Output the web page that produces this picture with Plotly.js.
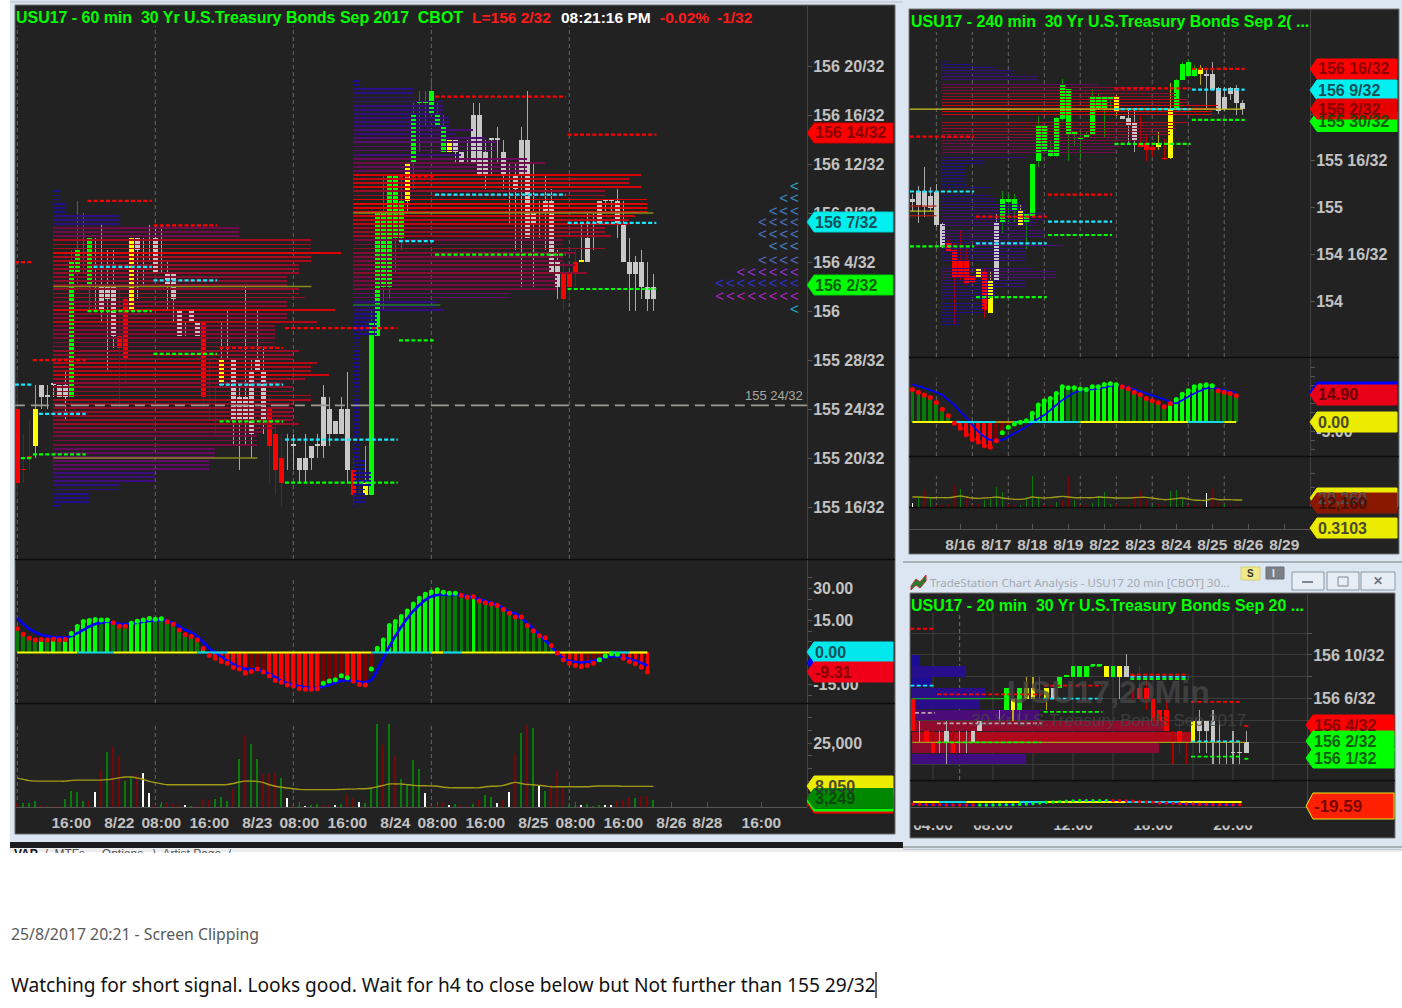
<!DOCTYPE html>
<html><head><meta charset="utf-8">
<script src="https://cdn.plot.ly/plotly-3.0.1.min.js"></script>
<style>html,body{margin:0;padding:0;background:#fff}#c{width:1402px;height:1008px}
#tabs{position:absolute;left:14px;top:848px;height:5px;overflow:hidden;font:12px "Liberation Sans";color:#555;white-space:pre;line-height:13px}
#tabs b{color:#111}</style></head><body>
<div id="c"></div><div id="tabs"><b>VAP</b>  /  MTFs ... Options   \  Artist Page  /</div>
<script>
/* ---------- 60 min: prices are 32nds above 155 ---------- */
const a60Hi=[27,22,23,26,26,26,26,26,27,37,41,40,38,38,39,37,37,34,33,38,38,38,39,39,39,36,35,32,31,32,31,31,28,26,31,32,28,26,34,28,32,29,25,23,22,22,22,20,22,21,22,26,25,23,25,27,20,19,21,32,40,43,43,43,43,44,49,50,50,51,49,48,46,46,45,46,49,49,46,46,47,46,44,44,47,50,44,41,43,42,37,36,35,37,39,40,40,41,41,41,42,41,38,36.5,37,36,35];
const a60Lo=[16.8,18,19,20,24,24,25,25,23,25,34,35,32,32,31,27,29,24,26,32,33,34,36,35,35,32,31,30,30,31,30,24,23,22,26,28,21,19,21,20,27,22,18,17,16,19,19,18,18,19,20,20,21,22,22,18,16,17,17,17,30,32,33,35,37,40,42,45,47,48,47,45,45,44,44,44,44,43,42,43,44,42,39,37,34,38,34,38,37,35,33,32,33,34,36,36,37,39,40,40,38,36,32,32,33,32,32];
const a60Top=[24,19,20,24,26,25,26,26,26,36,37,null,38,null,34,34,34,30,33,38,38,null,null,38,null,35,35,32,null,32,31,31,null,null,28,null,28,25,25,27,28,27,24,22,20,null,21,20,20,21,21,25,24,23,24,24,19,null,18,31,40,40,43,43,41,44,48,49,49,50,48,47,46,46,45,null,48,48,45,46,46,45,43,43,46,46,40,40,41,41,36,35,35,36,36,38,39,41,41,41,41,39,36,36,36,34,34];
const a60Bot=[18,19,20,21,25,25,26,25,25,25,35,null,34,null,32,33,30,29,28,32,37,null,null,35,null,34,33,30,null,31,30,25,null,null,26,null,23,23,23,22,27,23,21,19,18,null,21,19,19,20,21,21,22,22,22,19,17,null,17,17,30,34,34,38,38,41,44,49,49,48,47,45,45,45,44,null,44,43,43,46,46,43,43,42,43,38,39,40,40,35,34,33,34,35,36,36,39,39,41,41,39,36,35,35,34,33,33];
const a60Kind="rrrywwwwwggggywwwrrywwwwwwwwwwwrrrywwwwwwwrrrywwwwwwwwwwrryggggggyggggggywwwwwwwwwwwwwwwwwwrrrywwwwwwwwwwwwwry".split("");
const a60Grid=[0,23,46,69,92];
const a60TickVals=[16,20,24,28,32,36,40,44,48,52];
const a60TickText=["155 16/32","155 20/32","155 24/32","155 28/32","156","156 4/32","156 8/32","156 12/32","156 16/32","156 20/32"];
const a60XVals=[9,17,24,32,40,47,55,63,70,78,86,93,101,109,115,124];
const a60XText=["16:00","8/22","08:00","16:00","8/23","08:00","16:00","8/24","08:00","16:00","8/25","08:00","16:00","8/26","8/28","16:00"];
const a60LevelRows=[[-.4,2.4,36,"r"],[11.7,22.4,41,"r"],[22.7,33.3,39,"r"],[12.7,22.4,35.6,"c"],[22.7,33.3,34.5,"c"],[11.7,22.4,32,"g"],[22.7,33.3,28.5,"g"],[2.6,11.4,28,"r"],[-.4,2.4,26,"c"],[3.6,11.4,23.6,"c"],[.6,2.4,20,"g"],[2.6,11.4,20.3,"g"],[33.7,44.3,29,"r"],[33.7,44.3,26,"c"],[33.7,44.3,23,"g"],[44.6,63.4,30.6,"r"],[44.6,63.4,21.5,"c"],[44.6,63.4,18,"g"],[63.6,69.4,43,"r"],[63.6,69.4,37.7,"c"],[63.6,69.4,29.6,"g"],[69.6,91.4,49.5,"r"],[69.6,91.4,41.5,"c"],[69.6,91.4,36.6,"g"],[91.7,106.5,46.4,"r"],[91.7,106.5,39.2,"c"],[91.7,106.5,33.8,"g"]];
/* volume profile rows: three rows per 32nd, length in bars */
const a60Prof1Low=16, a60Prof1Start=6;
const a60Prof1=[1,6,6,6,11,11,17,17,17,26,26,26,27,27,27,34,34,34,35,37,41,40,40,40,40,40,43,43,40,40,38,42,46,43,43,44,40,40,41,37,37,37,37,37,37,44,39,39,47,39,39,42,41,41,39,39,39,41,41,41,43,43,48,43,43,43,31,31,31,11,11,11,2,2,2,1,1,1];
const a60Prof2Low=16, a60Prof2Start=56;
const a60Prof2=[.5,2,2,2,2,3,3,3,3,2,2,2,1,1,1,1,1,1,1,1,1,1,1,1,1,1,1,1,1,1,1,1,1,1,1,1,1,1,1,1,1,1,4,4,4,4,4,4,15,14,14,26,26,34,34,34,34,39,33,37,35,35,37,42,35,35,43,42,42,46,46,47,49,49,49,49,42,42,48,46,46,48,29,29,32,29,18,24,24,24,22,17,20,16,16,16,15,15,15,15,10,10,10,1,1];
const a60Poc=[[6,49,34,"#8a8a20"],[6,40,20,"#8a8a20"],[56,106,40,"#8a8a20"],[56,70.5,32.5,"#1f7a1f"]];
const a60ArrowVals=[42.1,41.1,40.1,39.2,38.2,37.2,36.1,35.1,34.2,33.1,32.1];
const a60ArrowCounts=[1,2,3,4,4,3,4,6,8,8,1];
const a60ArrowColors=["#2aa8c8","#3a8ec8","#4080c8","#5070c0","#4a78c8","#4088c8","#5a68c0","#9030d0","#3030d0","#b020c0","#20b0c8"];
/* 60 min oscillator */
const a60Osc=[11.1,8.6,6.7,5.9,6.1,5.9,6.2,5.9,6.1,8.9,12.2,14.5,15,15.5,15.2,15.3,13.9,12.3,12.3,13.75,14.7,15.3,15.9,15.6,15.8,14.4,13.3,10.6,8.4,7.5,5.9,1.9,-1.4,-2.7,-4.2,-5,-7,-7.8,-9.7,-8.9,-7.8,-9.2,-11,-13.1,-14,-15.3,-15.6,-16.9,-17.2,-17.3,-17,-14.4,-13.4,-12.8,-10.9,-11.9,-13.4,-15,-15.3,-7.8,2,5.9,12.7,14.5,16.9,19.5,22.8,25.5,27.3,28.4,29.4,28.3,27.8,27.8,26.7,25.9,26.2,24.2,23.3,22.7,22,20.2,18.4,16.7,16.7,12.7,10.2,7.8,6.9,3.3,-.2,-3.4,-5,-6.1,-6.7,-6.1,-5,-3.4,-1.7,-.6,-.8,-2.7,-4.2,-5.3,-6.9,-9.2];
const a60Sig=[16.1,13.4,11.1,9.5,8.3,7.7,7.2,7,7,7.7,9.1,10.6,12.2,13.4,14,14.4,14,13.4,13.3,13.6,14,14.5,14.8,15,15.3,14.8,13.75,12.2,10.6,9.4,7.5,4.8,2,0,-1.9,-3.9,-5.5,-6.9,-7.7,-7.8,-8,-8.9,-10.2,-11.7,-13.3,-14.4,-15.2,-15.9,-16.4,-16.7,-16.7,-15.9,-15.2,-14.2,-13.3,-13,-13.3,-13.75,-14,-12.8,-8.1,-2.7,2.8,7.8,12.2,16.1,19.5,22.3,24.7,26.25,27,27.2,27,27,27,26.4,25.8,25,24.2,23.4,22.3,20.8,19.2,18.3,16.1,13.75,11.1,8.3,5.5,2.8,-.3,-2.7,-3.9,-4.5,-4.7,-4.5,-3.9,-3.1,-2.3,-1.9,-1.9,-2.3,-3,-3.9,-5,-6.1];
const a60Shade="ddddbdbdbbbbbbdbdddbbbbddddddddbbbbbbbbdddbbbbbbbbbddddbbbddbbbbbbbbbbbdddddbddddddddddddddbbbbdddddbbbbbb".split("");
const a60Dot="rrrrrrrrrgggggggrrrggggggrrrrrrrrrrrrrrrrrrrrrrrrrrgggggrrrgggggggggggggggrrrrrrrrrrrrrrrrrrrrrrrggggrrrrr".split("");
const a60ZeroRows=[[0,10,"y"],[10,16,"c"],[16,30,"y"],[30,35,"c"],[35,59,"y"],[59,69,"c"],[69,71,"y"],[71,74,"c"],[74,99,"y"],[99,102,"c"],[102,105,"y"]];
/* 60 min volume */
const a60Vol=[1700,1400,1400,2300,650,300,400,400,3250,6100,5850,2200,2470,5980,14300,21450,23270,19760,10270,11310,12600,13130,5330,900,1000,1500,1300,900,650,500,400,3000,2600,3250,4000,2500,7000,18850,27950,24570,18850,12870,13130,13130,11310,3400,400,400,500,650,1300,650,900,900,1170,4940,3500,2080,1700,7540,32370,24180,32370,19890,10790,8710,18200,14690,5330,400,780,1950,650,1170,650,500,1300,2600,4550,3770,1700,2730,5850,20670,28730,31850,30940,8710,6110,8710,14170,7410,650,400,900,1040,400,900,650,650,2200,2860,3900,3640,4160,4290,2860];
const a60VolAvg=[11.3,10.8,10.3,10.1,10.1,10.1,10.1,10.1,10.1,10.4,10.5,10.5,10.5,10.5,10.5,10.7,11,11.4,11.7,11.7,11.3,10.8,10,9.5,9.1,8.7,8.7,8.7,8.7,8.7,8.7,8.7,8.7,8.7,8.7,8.8,9.2,9.75,10.1,10.1,10,9.5,8.7,8.1,7.7,7.4,7.15,6.9,6.8,6.8,6.8,6.8,6.8,6.8,6.9,7,7,7.15,7.15,7.4,7.9,8.45,9,9,9,8.7,8.45,8.3,8.3,8.2,8.1,7.7,7.5,7.5,7.5,7.5,7.5,7.5,7.9,8.1,8.1,8.45,9.1,9.6,9.2,8.8,8.7,8.45,8.2,7.9,7.9,7.9,7.9,7.9,7.9,7.9,8.1,8.2,8.2,8.2,8.2,8.05,8.05,8.05,8.05,8.05,8.05];
const a60VolKind="rgggrrrrggggrwrgrrggrwwrgrrrwgrrrgggrgrggrrrgwrgwggrrwgrrwgggrgrggggwrrrwgrrgrggwrwrgrgwgrrrggwgggwwrrrgrrg".split("");

/* ---------- 240 min: prices are 32nds above 154 ---------- */
const b240Hi=[36.6,39.4,46,38.9,40,26.8,21.7,20,24,18,8.5,11.4,11.4,10.2,29.9,37.7,36.6,36.6,33.1,29.9,46.9,63.5,60.1,54.9,63,76.1,72.7,58,57.8,57.8,72.7,71,70,70,70.4,63.5,65.3,65.3,63.5,57.2,54.4,57.8,55.5,74.8,76.1,81.9,83,80.7,80.7,79.6,81.9,73.3,73.3,73.3,73.9,68.9];
const b240Lo=[30.8,26.8,28.6,30.8,25.3,18.2,16.9,-8.1,6.8,5.6,6.2,7.9,-5.8,-4.1,6.8,23.2,26.8,26.8,25.9,17.7,28.6,46,50.9,49.4,49.4,61.8,48,53.2,48.9,55.8,56.9,65.5,55.7,65.7,63.2,62.2,53.8,50.9,52.9,48,49.4,51.7,48.3,48.6,65.3,75.6,76.7,76.7,73.9,65.8,72.1,64.1,65,68.7,63.8,63.8];
const b240Top=[35.1,37.7,37.7,36,37.2,26.3,20,17.3,14.2,14.2,8.5,11,10.2,7,26.8,35.1,35.1,35.1,31.1,29.9,46.9,60.1,60.1,51.7,62.7,74.1,72.7,58,56.1,57.2,69.8,69.8,69.8,69.8,69.8,63.5,62.7,60.9,54,54,52.9,54,49,65.8,75.8,81,81.9,79.8,79.8,77.9,77.9,72.9,69.8,72.9,72.9,67.9];
const b240Bot=[33.9,32.8,32.2,32,25.9,18.5,17.1,7.9,7.9,5.8,6.5,7.9,-3,-4.1,6.8,26.8,33.9,31.1,25.9,26.8,29.1,48,51.3,49.8,49.8,62.2,56.9,56.9,55.5,56,56.9,65.7,65.7,68.9,64.9,62.2,59.9,54.7,52.9,51.8,51.8,52.9,48.7,48.9,65.5,75.8,76.9,76.9,77.9,76.9,72.4,65,65.7,70.8,67.9,65.7];
const b240KindFull=["w","w","w","w","w","w","r","r","r","r","r","y","r","y","w","g","g","g","y","g","g","g","g","g","g","g","g","g","g","g","g","g","g","g","y","w","w","w","r","r","r","y","r","y","g","g","g","g","y","w","w","w","w","w","w","w"];
const b240Grid=[4,10,16,22,28,34,40,46,52];
const b240TickVals=[0,16,32,48,64,80];
const b240TickText=["154","154 16/32","155","155 16/32","156","156 16/32"];
const b240XVals=[8,14,20,26,32,38,44,50,56,62];
const b240XText=["8/16","8/17","8/18","8/19","8/22","8/23","8/24","8/25","8/26","8/29"];
const b240LevelRows=[[-.4,10.3,56.3,"r"],[-.4,10.3,37.5,"c"],[-.4,10.3,18.7,"g"],[10.6,22.4,28.9,"r"],[10.6,22.4,19.7,"c"],[10.6,22.4,1.3,"g"],[22.6,33.3,36.4,"r"],[22.6,33.3,27.2,"c"],[22.6,33.3,22.6,"g"],[33.7,46.4,72.8,"r"],[33.7,46.4,65.7,"c"],[33.7,46.4,53.8,"g"],[46.6,55.4,79.5,"r"],[46.6,55.4,72.4,"c"],[46.6,55.4,62,"g"]];
const b240ProfLow=-8, b240ProfStart=5;
const b240Prof=[3,3,3,3,7,7,7,7,7,8,9,9,9,14,14,14,19,19,19,15,14,14,14,14,14,14,14,20,14,14,17,17,17,17,16,16,17,17,17,14,14,14,9,9,8,8,8,8,4,4,4,4,4,4,4,7,7,14,14,29,29,30,30,34,34,38,38,39,39,41,41,44,45,45,46,46,41,41,39,39,35,35,26,26,16,16,12,12,9,5,1];
const b240Poc=[[-.4,55,65.7,"#c8c820"],[-.4,4,30.8,"#c8c820"],[-.4,4,32.5,"#c01818"],[-.4,4,29.2,"#c01818"]];
const b240Osc=[18,16.5,14.9,13.6,10.8,7,3.5,-.7,-3.5,-7,-9.6,-11,-13.2,-14,-10.3,-5.9,-2.9,-1.1,-.2,.7,4.8,9.4,11.8,13,15.8,19.5,18.9,18.9,18.2,18,19.5,19.5,20.8,21.1,20.6,19.5,18.4,16.5,15.1,13,11.8,10.7,8.5,10.3,12.5,15.3,17.3,19.5,20.2,20.6,20,17.3,16.4,15.8,14.5];
const b240Sig=[20.8,19.9,18.8,17.6,16.4,14.9,12.1,9.4,5.7,2.4,-1.7,-5.3,-8.1,-9.9,-10.3,-9.9,-8.1,-6.3,-4.4,-2.6,-.4,2,3.9,6.6,9.4,12.1,14.3,16.2,17.3,17.6,18,18.6,19.1,19.9,20.4,19.9,19.1,18,16.9,15.8,14.7,13.6,12.5,11.2,10.3,12.1,14,15.8,17.3,18.6,18.9,18.4,17.6,16.9,16.2];
const b240Shade="dddddddbbbbbbbddddddbbbbbbddddbbbbbddddddddbbbbbbbddddd".split("");
const b240Dot="rrrrrrrrrrrrrrrggggggggggggggggggggrrrrrrrrrgggggggrrrr".split("");
const b240ZeroRows=[[0,7,"y"],[7,14,"c"],[14,17,"o"],[17,28,"c"],[28,46,"y"],[46,52,"c"],[52,54,"y"]];
const b240Vol=[12,27,50,27,7,5,10,67,55,30,5,10,20,25,60,44,8,5,6,30,94,32,6,6,15,20,94,20,5,6,12,32,44,8,10,4,6,35,47,22,6,10,6,47,52,27,5,6,5,42,54,15,8,5,6];
const b240VolKindFull=["w","g","r","g","r","r","r","r","g","r","r","r","g","g","g","g","r","r","g","g","g","g","r","r","g","r","r","g","r","r","g","g","g","g","r","r","r","r","r","r","g","r","r","g","g","g","r","r","r","w","r","r","g","r","r"];
const b240VolAvg=[30,30,29,28,28,28,28,30,33,30,27,26,27,28,30,27,25,23,23,25,30,28,27,28,30,32,30,28,28,28,28,30,29,28,27,27,27,28,29,29,27,24,22,23,25,27,24,21,20,20,25,22,22,22,21,21];

/* ---------- 20 min: prices are 32nds above 156 ---------- */
const c20Hi=[6,4,3,3,3,4,3,3,3,3,4,null,null,5,7,6,7,8,8,8,7,7,8,8,9,9,9,9,9,9,9,9,10.1,7,9,8,6,5,6,3,4,2,4,5,4,5,4,2,3,2,3];
const c20Lo=[3,2,2,1,1,0,1,1,1,2,3,null,null,4,5,4,4,7,7,6,5,6,7,8,8,8,8,9,9,8,8,6,8,6,6,5,4,4,3,0,1,0,2,1,1,0,0,0,0,0,1];
const c20Top=[6,null,3,2,null,3,2,null,null,3,4,null,null,null,7,6,7,7,7,null,7,7,8,8,9,9,9,9,9,9,9,9,9,8,7,7,6,5,5,null,3,null,4,4,4,4,null,null,1,1,2];
const c20Bot=[3,null,2,1,null,2,1,null,null,2,3,null,null,null,5,5,5,6,6,null,6,6,7,8,8,8,8,9,9,8,8,8,8,8,6,6,4,4,3,null,2,null,2,3,3,2,null,null,1,1,1];
const c20Kind=["r","w","r","r","y","w","r","y","w","w","w","w","w","w","g","y","g","y","y","g","y","w","g","g","g","g","g","g","g","y","g","y","w","r","r","r","r","r","r","r","r","r","y","w","w","w","w","w","w","w","w"];
const c20Grid=[3,12,18,24,30,36,42,48,54];
const c20TickVals=[12,10,8,6,4,2,0];
const c20TickText=["","156 10/32","","156 6/32","","",""];
const c20XVals=[3,12,24,36,48];
const c20XText=["04:00","08:00","12:00","16:00","20:00"];
const c20LevelRows=[[-.4,3.3,12.4,"r"],[-.4,3.3,7.2,"c"],[3.6,19.3,6.4,"r"],[3.6,19.3,3.75,"m"],[3.6,19.3,2,"g"],[.3,3.3,4.7,"m"],[19.6,28.4,7.2,"r"],[19.6,28.4,6,"c"],[19.6,28.4,4.8,"g"],[26.6,28.4,9,"g"],[32.6,41.3,8.2,"r"],[32.6,41.3,8,"c"],[32.6,41.3,7.8,"g"],[41.7,49.3,5.7,"r"],[41.7,49.3,2.1,"c"],[41.7,49.3,.7,"g"],[49.7,50.3,3.5,"r"],[49.7,50.3,.5,"g"]];
const c20ProfVals=[.5,1.5,2.5,3.5,4.5,5.5,6.5,7.5,8.5,9.5];
const c20ProfLens=[17,37,42,38,19,10,11,3,8,1];
const c20Poc=[[-.1,49.8,2,"#a89a20"],[-.1,14,6,"#20a020"]];
const c20Osc=[-15,-17,-19.5,-19.5,-19.5,-22,-22,-22,-22,-22,-22,-22,-22,-19.5,-19.5,-19.5,-17,-15,-12,-7,-2.4,0,2.4,5,7.3,9.8,9.8,9.8,9.8,9.8,9.8,9.8,7.3,5,2.4,0,-2.4,-7,-7,-9.8,-12,-15,-15,-17,-17,-19.5,-19.5,-19.5,-19.5,-19.5];
const c20Dot="rrrrrrrrrrggggggggggggggggggggrrrrrrrrrrrrrrrrrrrr".split("");
const c20ZeroRows=[[0,4,"y"],[4,8,"c"],[8,16,"y"],[16,20,"c"],[20,32,"y"],[32,40,"c"],[40,49.3,"y"]];

/* ---------- helpers ---------- */
const W=1402,H=1008;
const fx=p=>p/W, fy=p=>1-p/H;
const FONT="Liberation Sans";
const wickC={g:"#0f8f0f",r:"#b00000",y:"#b8a820",w:"#a8a8a8"};
const bodyC={g:"#00ff00",r:"#ff0000",y:"#ffff00",w:"#c8c8c8"};
const lvlC={r:"#ff0000",c:"#19e6ff",g:"#00ff00",m:"#c0a0b0"};
const zeroC={y:"#ffff00",c:"#14d8e6",o:"#d0a000"};
function hexMix(a,b,t){return a.map((v,k)=>Math.round(v+(b[k]-v)*t));}
const stops=[[0,[22,14,150]],[.3,[50,14,132]],[.5,[92,10,112]],[.7,[122,10,62]],[.85,[150,12,40]],[1,[225,0,0]]];
function profColor(t){for(let k=1;k<stops.length;k++){if(t<=stops[k][0]){const q=(t-stops[k-1][0])/(stops[k][0]-stops[k-1][0]);const c=hexMix(stops[k-1][1],stops[k][1],q);return `rgb(${c[0]},${c[1]},${c[2]})`;}}return "rgb(225,0,0)";}
const traces=[];
function candles(xa,ya,hi,lo,top,bot,kind,wickW,bodyW){
  const idx=hi.map((_,i)=>i).filter(i=>hi[i]!=null);
  traces.push({type:"bar",xaxis:xa,yaxis:ya,x:idx,y:idx.map(i=>hi[i]-lo[i]),base:idx.map(i=>lo[i]),width:wickW,marker:{color:idx.map(i=>wickC[kind[i]]),line:{width:0}},hoverinfo:"skip"});
  const bi=idx.filter(i=>top[i]!=null);
  traces.push({type:"bar",xaxis:xa,yaxis:ya,x:bi,y:bi.map(i=>Math.max(top[i]-bot[i],.14)),base:bi.map(i=>bot[i]),width:bodyW,marker:{color:bi.map(i=>bodyC[kind[i]]),line:{width:0}},hoverinfo:"skip"});
}
function profile(xa,ya,start,low,step,lens,thick){
  const mx=Math.max(...lens);
  traces.push({type:"bar",orientation:"h",xaxis:xa,yaxis:ya,y:lens.map((_,k)=>low+k*step),x:lens,base:lens.map(()=>start),width:thick,marker:{color:lens.map(l=>profColor(l/mx)),line:{width:0}},hoverinfo:"skip"});
}
function segs(xa,ya,rows,width){
  rows.forEach(r=>traces.push({type:"scatter",mode:"lines",xaxis:xa,yaxis:ya,x:[r[0],r[1]],y:[r[2],r[2]],line:{color:r[3],width:width},hoverinfo:"skip"}));
}
function levels(xa,ya,rows,w,dash){
  ["m","g","c","r"].forEach(k=>{const x=[],y=[];rows.filter(r=>r[3]===k).forEach(r=>{x.push(r[0],r[1],null);y.push(r[2],r[2],null);});
    if(x.length)traces.push({type:"scatter",mode:"lines",xaxis:xa,yaxis:ya,x:x,y:y,line:{color:lvlC[k],width:w,dash:dash},hoverinfo:"skip"});});
}
function zero(xa,ya,rows,w){
  rows.forEach(r=>traces.push({type:"scatter",mode:"lines",xaxis:xa,yaxis:ya,x:[r[0],r[1]],y:[0,0],line:{color:zeroC[r[2]],width:w},hoverinfo:"skip"}));
}
function osc(xa,ya,vals,shade,width){
  const x=vals.map((_,i)=>i);
  traces.push({type:"bar",xaxis:xa,yaxis:ya,x:x,y:vals,width:width,marker:{color:vals.map((v,i)=>v>=0?(shade[i]==="b"?"#00ff00":"#057a05"):(shade[i]==="b"?"#ff0000":"#7a0000")),line:{width:0}},hoverinfo:"skip"});
}
function dots(xa,ya,vals,dot,size){
  traces.push({type:"scatter",mode:"markers",xaxis:xa,yaxis:ya,x:vals.map((_,i)=>i),y:vals,marker:{size:size,color:vals.map((_,i)=>dot[i]==="g"?"#00ff00":"#ff0000")},hoverinfo:"skip"});
}
function sig(xa,ya,vals,w){
  traces.push({type:"scatter",mode:"lines",xaxis:xa,yaxis:ya,x:vals.map((_,i)=>i),y:vals,line:{color:"#0000ff",width:w,shape:"spline"},hoverinfo:"skip"});
}
function vol(xa,ya,vals,kind,width,scale){
  const c={g:"#0a7a0a",r:"#720808",w:"#ffffff"};
  traces.push({type:"bar",xaxis:xa,yaxis:ya,x:vals.map((_,i)=>i),y:vals.map(v=>v*scale),width:width,marker:{color:vals.map((_,i)=>c[kind[i]]),line:{width:0}},hoverinfo:"skip"});
}
function avg(xa,ya,vals,scale){
  traces.push({type:"scatter",mode:"lines",xaxis:xa,yaxis:ya,x:vals.map((_,i)=>i),y:vals.map(v=>v*scale),line:{color:"#a09a14",width:1.4,shape:"spline"},hoverinfo:"skip"});
}

/* ---------- 60 min traces ---------- */
candles("x","y",a60Hi,a60Lo,a60Top,a60Bot,a60Kind,.2,.84);
profile("x","y",a60Prof1Start,a60Prof1Low+.1,1/3,a60Prof1,.15);
profile("x","y",a60Prof2Start,a60Prof2Low+.1,1/3,a60Prof2,.15);
segs("x","y",a60Poc,1.5);
levels("x","y",a60LevelRows,2.2,"4px,2.2px");
traces.push({type:"scatter",mode:"lines",xaxis:"x",yaxis:"y",x:[-.4,131.6],y:[24.3,24.3],line:{color:"#9a9a90",width:1.6,dash:"10px,6px,18px,6px"},hoverinfo:"skip"});
(function(){const x=[],y=[],t=[],c=[];a60ArrowVals.forEach((v,r)=>{for(let k=0;k<a60ArrowCounts[r];k++){x.push(129.5-k*1.78);y.push(v);t.push("<");c.push(a60ArrowColors[r]);}});
traces.push({type:"scatter",mode:"text",xaxis:"x",yaxis:"y",x:x,y:y,text:t,textposition:"middle center",textfont:{family:FONT,size:15,color:c},hoverinfo:"skip"});})();
osc("x","y2",a60Osc,a60Shade,.62);
sig("x","y2",a60Sig,2.6);
zero("x","y2",a60ZeroRows,2.2);
dots("x","y2",a60Osc,a60Dot,5);
vol("x","y3",a60Vol,a60VolKind,.34,1);
avg("x","y3",a60VolAvg,1000);

/* ---------- 240 min traces ---------- */
candles("x2","y4",b240Hi,b240Lo,b240Top,b240Bot,b240KindFull,.2,.84);
profile("x2","y4",b240ProfStart,b240ProfLow,1,b240Prof,.3);
segs("x2","y4",b240Poc,1.2);
levels("x2","y4",b240LevelRows,2.2,"4px,2.2px");
osc("x2","y5",b240Osc,b240Shade,.62);
sig("x2","y5",b240Sig,1.8);
zero("x2","y5",b240ZeroRows,1.8);
dots("x2","y5",b240Osc,b240Dot,5);
vol("x2","y6",b240Vol,b240VolKindFull,.18,1000);
avg("x2","y6",b240VolAvg,1000);

/* ---------- 20 min traces ---------- */
traces.push({type:"bar",orientation:"h",xaxis:"x3",yaxis:"y7",y:c20ProfVals,x:c20ProfLens,base:c20ProfVals.map(()=>-.1),width:.94,marker:{color:c20ProfLens.map(l=>profColor(l/42*.9)),line:{width:0}},hoverinfo:"skip"});
candles("x3","y7",c20Hi,c20Lo,c20Top,c20Bot,c20Kind,.2,.72);
segs("x3","y7",c20Poc,1.2);
levels("x3","y7",c20LevelRows,1.8,"4px,2.4px");
sig("x3","y8",c20Osc,1.2);
zero("x3","y8",c20ZeroRows,2);
dots("x3","y8",c20Osc,c20Dot,3.4);

/* ---------- layout ---------- */
const shapes=[],ann=[];
function rect(x0,y0,x1,y1,fill,line,layer){shapes.push({type:"rect",xref:"paper",yref:"paper",x0:fx(x0),x1:fx(x1),y0:fy(y1),y1:fy(y0),fillcolor:fill,line:line?{color:line,width:1}:{width:0},layer:layer||"below"});}
function hline(x0,x1,y,c,w,layer){shapes.push({type:"line",xref:"paper",yref:"paper",x0:fx(x0),x1:fx(x1),y0:fy(y),y1:fy(y),line:{color:c,width:w||1},layer:layer||"below"});}
function vdash(xa,v,y0,y1,c,dash){shapes.push({type:"line",xref:xa,yref:"paper",x0:v,x1:v,y0:fy(y1),y1:fy(y0),line:{color:c||"#666",width:1,dash:dash||"4px,3px"},layer:"below"});}
function text(x,y,t,size,color,anchor,weight,family){ann.push({xref:"paper",yref:"paper",x:fx(x),y:fy(y),text:t,showarrow:false,xanchor:anchor||"left",yanchor:"middle",borderpad:0,font:{family:family||FONT,size:size,color:color,weight:weight||400}});}
function tag(x0,x1,y,h,fill,border,label,tc,size,op){
  const a=fx(x0),b=fx(x0+7),c=fx(x1),t=fy(y-h/2),m=fy(y),u=fy(y+h/2);
  shapes.push({type:"path",xref:"paper",yref:"paper",path:`M${a},${m} L${b},${t} L${c},${t} L${c},${u} L${b},${u} Z`,fillcolor:fill,line:{color:border||fill,width:1},layer:"above"});
  if(label)ann.push({xref:"paper",yref:"paper",x:fx(x0+5.5),y:m,text:label,showarrow:false,xanchor:"left",yanchor:"middle",font:{family:FONT,size:size||16,color:tc||"#222",weight:700},opacity:op||.88});
}
/* frames */
rect(10,0,903,843,"#dbe6f2");rect(15,5,895,834,"#222222","#6a6a6a");
hline(10,903,2,"#b8c2cc",1);
rect(10,842,903,848,"#1c1c1c");rect(10,848,1402,852,"#ececec");hline(903,1402,849,"#9aa0a6",1);
rect(903,0,1402,560,"#dbe6f2");rect(903,560,1402,849,"#dbe6f2");
hline(903,1402,562,"#a8b0b8",2);hline(903,1402,847,"#a8b0b8",2);
rect(909,9,1399,554,"#222222","#777");rect(910,593,1395,838,"#222222","#777");
/* separators */
hline(15,895,559.5,"#0c0c0c",1.5);hline(15,895,703.5,"#0c0c0c",1.5);
hline(909,1399,357.5,"#0c0c0c",1.5);hline(909,1399,456.5,"#0c0c0c",1.5);hline(909,1310,507.5,"#0c0c0c",1.5);hline(1310,1399,507.5,"#0c0c0c",1.5);
hline(910,1395,780.5,"#0c0c0c",1.5);
/* dashed grids */
a60Grid.forEach(v=>{vdash("x",v,26,559);vdash("x",v,578,703);vdash("x",v,723,807);});
b240Grid.forEach(v=>{vdash("x2",v,32,357);vdash("x2",v,378,456);vdash("x2",v,476,507);});
c20Grid.forEach(v=>{vdash("x3",v,613,780,"#3c3c3c","solid");});
vdash("x3",7,613,780,"#707070");
/* C title bar */
shapes.push({type:"path",xref:"paper",yref:"paper",path:`M${fx(911)},${fy(586)} L${fx(916)},${fy(579)} L${fx(920)},${fy(582)} L${fx(926)},${fy(575)} L${fx(926)},${fy(581)} L${fx(920)},${fy(588)} L${fx(916)},${fy(585)} L${fx(911)},${fy(590)} Z`,fillcolor:"#2a7a30",line:{color:"#c03030",width:1},layer:"below"});
rect(1241,567,1260,580,"#efe98a","#d8d070");rect(1266,567,1284,579,"#7a7f85","#6a6f75");
[[1292,1324],[1327,1359],[1361,1395]].forEach(b=>rect(b[0],572,b[1],590,"#e6edf5","#8c97a3"));
rect(1302,581,1313,583,"#7c8794");rect(1338,577,1348,586,"#e6edf5","#7c8794");
/* text */
text(15,17,"USU17 - 60 min  30 Yr U.S.Treasury Bonds Sep 2017  CBOT",15.95,"#00ff00","left",700);
text(471,17,"L=156 2/32",15.5,"#ff1a1a","left",700);
text(560,17,"08:21:16 PM",15.5,"#ffffff","left",700);
text(659,17,"-0.02%",15.5,"#ff1a1a","left",700);
text(716,17,"-1/32",15.5,"#ff1a1a","left",700);
text(804,396,"155 24/32",13,"#a8a8a0","right",400);
text(910,21,"USU17 - 240 min  30 Yr U.S.Treasury Bonds Sep 2( ...",15.95,"#00ff00","left",700);
text(910,605,"USU17 - 20 min  30 Yr U.S.Treasury Bonds Sep 20 ...",15.95,"#00ff00","left",700);
text(929,582,"TradeStation Chart Analysis - USU17 20 min [CBOT] 30...",11.5,"#a3a9b0","left",400,"Noto Sans");
text(1246,573,"S",10,"#333","left",700);text(1271,573,"I",10,"#eee","left",700);
text(1372,581,"✕",12,"#6a7480","left",700);
text(1108,692,"USU17,20Min",32,"rgba(72,72,72,.75)","center",700);
text(1108,720,"30 Yr U.S.Treasury Bonds Sep 2017",17,"rgba(72,72,72,.75)","center",400);
text(9.5,934,"25/8/2017 20:21 - Screen Clipping",15.8,"#595959","left",400,"Noto Sans");
text(9.5,985,"Watching for short signal. Looks good. Wait for h4 to close below but Not further than 155 29/32",19.15,"#111111","left",400,"Noto Sans");
shapes.push({type:"line",xref:"paper",yref:"paper",x0:fx(876),x1:fx(876),y0:fy(998),y1:fy(972),line:{color:"#000",width:1.2}});
/* tags */
tag(807,893,133,20,"#ff0000","#cc0000","156 14/32","#7a0000");
tag(807,893,222,20,"#00f0f0","#00d0d0","156 7/32","#143c46");
tag(807,893,285,20,"#00ff00","#00d000","156 2/32","#0c4a0c");
tag(807,893,663,20,"#0000ff",null);
tag(807,893,652,20,"#00e8ee",null,"0.00","#1c3c44");
tag(807,893,672,20,"#f00018",null,"-9.31","#7a0000");
tag(807,893,786,20,"#ecec00",null,"8,050","#333");
tag(807,893,803,20,"#ff0000",null);
tag(807,893,801,20,"#00ff00",null);
tag(807,893,798.5,20,"#008800",null,"3,249","#0f3f0f");
tag(1310,1397,69,20,"#ff0000",null,"156 16/32","#7a0000");
tag(1310,1397,121.5,20,"#00ff00",null,"155 30/32","#0c4a0c");
tag(1310,1397,90,20,"#00f0f0",null,"156 9/32","#143c46");
tag(1310,1397,109,20,"#e60000",null,"156 2/32","#7a0000");
tag(1310,1397,392,20,"#0000ff",null);
tag(1310,1397,395,20,"#e80018",null,"14.90","#5a0000");
tag(1310,1397,422,20,"#ecec00",null,"0.00","#333");
tag(1310,1397,498,20,"#ecec00",null,"20,260","#555");
tag(1310,1397,503,20,"#8a1800",null,"12,160","#3a1010");
tag(1310,1397,528,20,"#ecec00",null,"0.3103","#333");
tag(1306,1394,725,20,"#ff0000",null,"156 4/32","#7a0000");
tag(1306,1394,758,20,"#00ff00",null,"156 1/32","#0c4a0c");
tag(1306,1394,741,20,"#00ff00",null,"156 2/32","#0c4a0c");
tag(1306,1394,806,26,"#ff2000","#ecec00","-19.59","#6a0000",17);
/* cover the top half of the clipped 20 min time labels */
rect(911,808,1305,825.5,"#222222",null,"above");

const tf={family:FONT,size:15.5,color:"#c2c2c2",weight:700};
const tfy={family:FONT,size:16,color:"#c2c2c2",weight:700};
function xAxis(dom0,dom1,r0,r1,pos,vals,txt,extra){return Object.assign({domain:[fx(dom0),fx(dom1)],range:[r0,r1],anchor:"free",position:fy(pos),tickmode:"array",tickvals:vals,ticktext:txt,ticks:"inside",ticklen:5,tickcolor:"#555",showline:true,linecolor:"#555",linewidth:1,showgrid:false,zeroline:false,tickfont:tf,ticklabelstandoff:1,fixedrange:true},extra||{});}
function yAxis(xa,p0,p1,r0,r1,vals,txt,extra){return Object.assign({domain:[fy(p1),fy(p0)],range:[r0,r1],anchor:xa,side:"right",tickmode:"array",tickvals:vals,ticktext:txt,ticks:"outside",ticklen:4,tickcolor:"#555",showline:true,linecolor:"#444",linewidth:1,showgrid:false,zeroline:false,tickfont:tfy,ticklabelstandoff:-2,fixedrange:true},extra||{});}
const layout={width:W,height:H,margin:{l:0,r:0,t:0,b:0,autoexpand:false},paper_bgcolor:"#ffffff",plot_bgcolor:"rgba(0,0,0,0)",showlegend:false,barmode:"overlay",bargap:0,hovermode:false,font:{family:FONT},shapes:shapes,annotations:ann,
 xaxis:xAxis(15,807,-.383,131.6,807,a60XVals,a60XText),
 xaxis2:xAxis(909,1310,-.56,66.3,529,b240XVals,b240XText),
 xaxis3:xAxis(910,1307,-.45,59.1,807,c20XVals,c20XText,{ticks:"",showline:true,ticklabelstandoff:3}),
 yaxis:yAxis("x",6,559,11.76,56.9,a60TickVals,a60TickText),
 yaxis2:yAxis("x",560,703,-23.7,43.4,[35,30,25,20,15,10,5,0,-5,-10,-15,-20],["","30.00","","","15.00","","","","","","-15.00",""]),
 yaxis3:yAxis("x",704,807,0,40234,[35000,30000,25000,20000,15000,10000,5000],["","","25,000","","","",""]),
 yaxis4:yAxis("x2",10,357,-19.18,99.66,b240TickVals,b240TickText),
 yaxis5:yAxis("x2",358,456,-18.8,35.4,[30,25,20,15,10,5,-5,-10,-15],["","","","","","","-5.00","",""]),
 yaxis6:yAxis("x2",457,507,0,150000,[100000,60000,20000],["","","20,000"]),
 yaxis7:yAxis("x3",593,780,-1.44,15.67,c20TickVals,c20TickText,{showgrid:true,gridcolor:"#3c3c3c",gridwidth:1}),
 yaxis8:yAxis("x3",781,807,-36.5,153,[0],["0.00"])
};
Plotly.newPlot("c",traces,layout,{staticPlot:true,displayModeBar:false});
</script></body></html>
